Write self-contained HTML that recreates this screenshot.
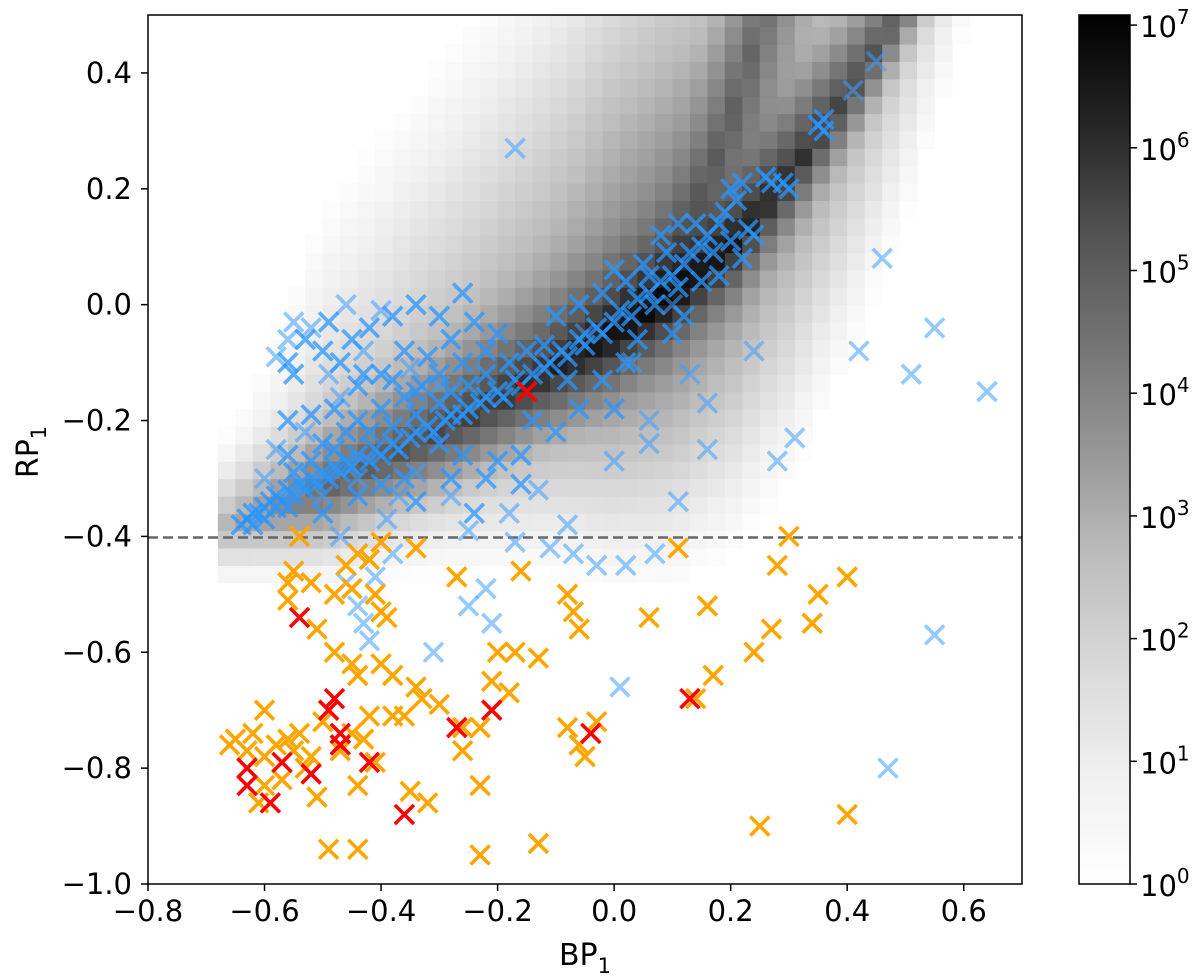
<!DOCTYPE html>
<html><head><meta charset="utf-8"><style>
body{margin:0;background:#fff}
svg{display:block;font-family:"DejaVu Sans","Liberation Sans",sans-serif}
</style></head><body>
<svg id="chart" width="1200" height="979" viewBox="0 0 1200 979">
<defs>
<linearGradient id="cbg" x1="0" y1="1" x2="0" y2="0">
<stop offset="0" stop-color="#ffffff"/><stop offset="0.125" stop-color="#f0f0f0"/><stop offset="0.25" stop-color="#d9d9d9"/><stop offset="0.375" stop-color="#bdbdbd"/><stop offset="0.5" stop-color="#969696"/><stop offset="0.625" stop-color="#737373"/><stop offset="0.75" stop-color="#525252"/><stop offset="0.875" stop-color="#252525"/><stop offset="1" stop-color="#000000"/>
</linearGradient>
<clipPath id="pc"><rect x="148" y="15" width="874" height="869"/></clipPath>
</defs>
<g id="heat" clip-path="url(#pc)"></g>
<line x1="148" y1="537.5" x2="1022" y2="537.5" stroke="#666" stroke-width="2.5" stroke-dasharray="10,5"/>
<g id="marks" clip-path="url(#pc)"></g>
<rect x="148" y="15" width="874" height="869" fill="none" stroke="#000" stroke-width="1.5"/>
<g id="axes" font-size="29" fill="#000"></g>
<text x="585" y="965" font-size="30" text-anchor="middle">BP<tspan font-size="21" dy="8">1</tspan></text>
<text transform="translate(38,452) rotate(-90)" font-size="30" text-anchor="middle">RP<tspan font-size="21" dy="8">1</tspan></text>
<rect x="1079" y="15" width="51" height="869" fill="url(#cbg)" stroke="#000" stroke-width="1.5"/>
<g id="cbaxis" font-size="29"></g>
</svg>
<script>
const NS="http://www.w3.org/2000/svg";
// ---- data ----
const xTicks=[-0.8,-0.6,-0.4,-0.2,0.0,0.2,0.4,0.6];
const yTicks=[-1.0,-0.8,-0.6,-0.4,-0.2,0.0,0.2,0.4];
const cbTicks=[0,1,2,3,4,5,6,7];
// heatmap ridges (log10 count peak along ridge)
const ridgeX=[-0.68,-0.5,-0.3,-0.1,0.0,0.1,0.2,0.3,0.4,0.5,0.6];
const ridgeY=[-0.39,-0.32,-0.22,-0.11,-0.05,0.02,0.1,0.22,0.36,0.52,0.7];
const ridgeP=[2.8,4.8,5.6,6.3,6.8,7.0,6.6,6.1,5.6,5.0,4.0];
const branchX=[0.05,0.12,0.2,0.27];
const branchY=[0.0,0.12,0.32,0.55];
const branchP=[5.5,5.3,5.0,4.6];
const blueDense=[[-0.64,-0.38],[-0.63,-0.37],[-0.62,-0.36],[-0.62,-0.38],[-0.61,-0.36],[-0.60,-0.35],[-0.60,-0.37],[-0.59,-0.34],[-0.58,-0.35],[-0.58,-0.33],[-0.57,-0.34],[-0.56,-0.32],[-0.56,-0.35],[-0.55,-0.33],[-0.54,-0.31],[-0.53,-0.32],[-0.52,-0.30],[-0.51,-0.31],[-0.50,-0.29],[-0.49,-0.30],[-0.48,-0.28],[-0.47,-0.29],[-0.46,-0.27],[-0.45,-0.28],[-0.44,-0.26],[-0.42,-0.27],[-0.41,-0.25],[-0.40,-0.26],[-0.38,-0.24],[-0.37,-0.25],[-0.35,-0.23],[-0.34,-0.22],[-0.32,-0.21],[-0.31,-0.22],[-0.29,-0.20],[-0.28,-0.19],[-0.26,-0.19],[-0.25,-0.18],[-0.23,-0.17],[-0.22,-0.16],[-0.20,-0.15],[-0.19,-0.16],[-0.17,-0.13],[-0.16,-0.14],[-0.14,-0.12],[-0.12,-0.11],[-0.11,-0.10],[-0.09,-0.08],[-0.08,-0.09],[-0.06,-0.06],[-0.05,-0.07],[-0.03,-0.04],[-0.02,-0.05],[0.0,-0.03],[0.01,-0.01],[0.03,-0.02],[0.04,0.01],[0.06,0.02],[0.07,0.0],[0.08,0.04],[0.10,0.05],[0.11,0.03],[0.12,0.07],[0.13,0.09],[0.15,0.10],[0.16,0.12],[0.17,0.09],[0.18,0.14],[0.19,0.16],[0.20,0.20],[0.21,0.18],[0.22,0.21],[0.23,0.13],[0.26,0.22],[0.27,0.21],[0.29,0.21],[0.30,0.20],[0.35,0.31],[0.36,0.30],[0.36,0.32],[0.0,0.06],[-0.02,0.02],[0.05,0.07],[0.09,0.09],[0.02,0.04],[-0.06,0.0],[-0.1,-0.02],[0.14,0.14],[0.11,0.14],[0.08,0.12],[0.06,0.05],[0.15,0.04],[0.18,0.05],[0.20,0.11],[0.22,0.08],[0.24,0.12],[0.04,-0.06],[0.1,-0.05],[0.12,-0.02],[-0.08,-0.13],[-0.12,-0.07],[-0.15,-0.08],[-0.18,-0.1],[-0.22,-0.12],[-0.25,-0.14],[-0.28,-0.15],[-0.30,-0.17],[-0.34,-0.19],[-0.38,-0.21],[-0.42,-0.22],[-0.48,-0.25],[-0.52,-0.27],[-0.55,-0.29],[-0.56,-0.26],[-0.50,-0.24],[-0.46,-0.22],[-0.44,-0.2],[-0.40,-0.18],[-0.36,-0.16],[-0.33,-0.14],[-0.30,-0.12],[-0.26,-0.10],[-0.22,-0.08],[-0.20,-0.05],[-0.24,-0.03],[-0.28,-0.06],[-0.32,-0.09],[-0.36,-0.08],[-0.40,-0.12],[-0.44,-0.14],[-0.48,-0.18],[-0.52,-0.19],[-0.56,-0.20],[-0.55,-0.12],[-0.50,-0.08],[-0.45,-0.06],[-0.42,-0.04],[-0.38,-0.02],[-0.34,0.0],[-0.30,-0.02],[-0.26,0.02],[-0.56,-0.1],[-0.53,-0.06],[-0.49,-0.03],[-0.47,-0.10],[-0.43,-0.12],[-0.38,-0.13],[-0.34,-0.15],[-0.30,-0.24],[-0.26,-0.26],[-0.22,-0.3],[-0.2,-0.27],[-0.16,-0.26],[-0.14,-0.20],[-0.1,-0.22],[-0.06,-0.18],[-0.02,-0.13],[0.0,-0.18],[0.02,-0.10],[-0.36,-0.30],[-0.40,-0.31],[-0.44,-0.33],[-0.50,-0.36],[-0.34,-0.34],[-0.28,-0.30],[-0.24,-0.36],[-0.16,-0.31]];
const blueSparse=[[-0.17,0.27],[0.45,0.42],[0.41,0.37],[0.46,0.08],[0.42,-0.08],[0.55,-0.04],[0.64,-0.15],[0.51,-0.12],[0.55,-0.57],[0.47,-0.80],[0.31,-0.23],[0.28,-0.27],[0.24,-0.08],[0.16,-0.25],[0.11,-0.34],[0.16,-0.17],[0.13,-0.12],[0.06,-0.20],[0.02,-0.45],[0.07,-0.43],[0.01,-0.66],[-0.07,-0.43],[-0.03,-0.45],[-0.11,-0.42],[-0.17,-0.41],[-0.22,-0.49],[-0.21,-0.55],[-0.25,-0.52],[-0.31,-0.60],[-0.25,-0.39],[-0.28,-0.33],[-0.34,-0.29],[-0.13,-0.32],[-0.18,-0.36],[-0.08,-0.38],[-0.43,-0.55],[-0.42,-0.58],[-0.44,-0.52],[-0.41,-0.47],[-0.39,-0.37],[-0.37,-0.33],[-0.45,-0.28],[-0.47,-0.16],[-0.46,0.0],[-0.40,-0.01],[-0.58,-0.09],[-0.56,-0.06],[-0.55,-0.03],[-0.52,-0.04],[-0.49,-0.12],[-0.43,-0.08],[-0.35,-0.11],[-0.30,-0.14],[-0.53,-0.22],[-0.58,-0.25],[-0.60,-0.30],[-0.50,-0.33],[-0.44,-0.30],[-0.38,-0.43],[-0.47,-0.40],[-0.46,-0.48],[0.0,-0.27],[0.03,-0.10],[-0.05,-0.05],[0.10,0.0],[0.06,-0.24]];
const orangePts=[[-0.54,-0.40],[-0.40,-0.41],[-0.34,-0.42],[-0.42,-0.44],[-0.44,-0.43],[-0.46,-0.45],[-0.55,-0.46],[-0.56,-0.48],[-0.52,-0.48],[-0.56,-0.51],[-0.48,-0.50],[-0.45,-0.49],[-0.41,-0.50],[-0.40,-0.53],[-0.39,-0.54],[-0.27,-0.47],[-0.16,-0.46],[-0.08,-0.50],[-0.07,-0.53],[-0.06,-0.56],[0.06,-0.54],[0.11,-0.42],[0.16,-0.52],[0.24,-0.60],[0.27,-0.56],[0.28,-0.45],[0.30,-0.40],[0.34,-0.55],[0.35,-0.50],[0.40,-0.47],[0.17,-0.64],[0.14,-0.68],[-0.51,-0.56],[-0.48,-0.60],[-0.45,-0.62],[-0.44,-0.64],[-0.38,-0.64],[-0.34,-0.66],[-0.33,-0.68],[-0.38,-0.71],[-0.30,-0.69],[-0.20,-0.60],[-0.17,-0.60],[-0.13,-0.61],[-0.21,-0.65],[-0.18,-0.67],[-0.60,-0.70],[-0.66,-0.76],[-0.65,-0.75],[-0.63,-0.77],[-0.62,-0.74],[-0.60,-0.78],[-0.58,-0.76],[-0.56,-0.75],[-0.54,-0.74],[-0.55,-0.77],[-0.53,-0.80],[-0.52,-0.78],[-0.47,-0.77],[-0.45,-0.74],[-0.42,-0.71],[-0.36,-0.71],[-0.43,-0.75],[-0.41,-0.79],[-0.50,-0.72],[-0.51,-0.85],[-0.60,-0.83],[-0.61,-0.86],[-0.44,-0.83],[-0.35,-0.84],[-0.32,-0.86],[-0.26,-0.73],[-0.23,-0.73],[-0.26,-0.77],[-0.23,-0.83],[-0.08,-0.73],[-0.06,-0.76],[-0.03,-0.72],[-0.05,-0.78],[-0.49,-0.94],[-0.44,-0.94],[-0.23,-0.95],[-0.13,-0.93],[0.25,-0.90],[0.40,-0.88],[-0.57,-0.82],[-0.40,-0.62]];
const redPts=[[-0.15,-0.15],[-0.54,-0.54],[-0.49,-0.70],[-0.48,-0.68],[-0.47,-0.74],[-0.47,-0.76],[-0.42,-0.79],[-0.63,-0.80],[-0.63,-0.83],[-0.59,-0.86],[-0.57,-0.79],[-0.52,-0.81],[-0.36,-0.88],[-0.27,-0.73],[-0.21,-0.70],[-0.04,-0.74],[0.13,-0.68]];
// ---- scales ----
const X0=148,X1=1022,Y0=884,Y1=15;
const sx=x=>X0+(x+0.8)/1.5*(X1-X0);
const sy=y=>Y0-(y+1)/1.5*(Y0-Y1);
const cbY=v=>884-v*122.7;
const greys=[[255,255,255],[240,240,240],[217,217,217],[189,189,189],[150,150,150],[115,115,115],[82,82,82],[37,37,37],[0,0,0]];
function grey(t){t=Math.max(0,Math.min(1,t));const f=t*8,i=Math.min(7,Math.floor(f)),r=f-i;const a=greys[i],b=greys[i+1];return 'rgb('+a.map((v,k)=>Math.round(v+(b[k]-v)*r)).join(',')+')';}
function interp(xs,ys,x){if(x<=xs[0])return ys[0]+(x-xs[0])*(ys[1]-ys[0])/(xs[1]-xs[0]);for(let i=1;i<xs.length;i++){if(x<=xs[i]){const r=(x-xs[i-1])/(xs[i]-xs[i-1]);return ys[i-1]+r*(ys[i]-ys[i-1]);}}const n=xs.length;return ys[n-1]+(x-xs[n-1])*(ys[n-1]-ys[n-2])/(xs[n-1]-xs[n-2]);}
function level(x,y){
  let s=0;
  const d=y-interp(ridgeX,ridgeY,x);const p=interp(ridgeX,ridgeP,Math.min(0.6,Math.max(-0.68,x)));
  s+=Math.pow(10,p-(d>0?20:30)*Math.abs(d));
  const kb=Math.max(7,Math.min(15,10-10*x));
  s+=Math.pow(10,p-2.3-(d>0?5*d:kb*(-d)));
  if(x>0.0&&x<0.4&&y>-0.05){const bx=interp(branchY,branchX,y);const dx=Math.abs(x-bx);const bp=interp(branchY,branchP,y);s+=Math.pow(10,bp-25*dx);}
  return Math.log10(s);
}
// ---- heatmap ----
const heat=document.getElementById('heat');
const bw=0.03,bh=0.03;
for(let x=-0.68;x<0.7;x+=bw){for(let y=-0.66;y<0.5;y+=bh){
  const L=level(x+bw/2,y+bh/2);if(L<0.1)continue;
  const r=document.createElementNS(NS,'rect');
  r.setAttribute('x',sx(x).toFixed(1));r.setAttribute('y',sy(y+bh).toFixed(1));
  r.setAttribute('width',(sx(x+bw)-sx(x)+0.6).toFixed(1));r.setAttribute('height',(sy(y)-sy(y+bh)+0.6).toFixed(1));
  r.setAttribute('fill',grey(L/7.08));
  
  
  heat.appendChild(r);
}}
// ---- markers ----
const marks=document.getElementById('marks');
function cross(p,color,op,name){
  const g=document.createElementNS(NS,'path');const cx=sx(p[0]),cy=sy(p[1]),h=9.5;
  g.setAttribute('d',`M${cx-h},${cy-h}L${cx+h},${cy+h}M${cx-h},${cy+h}L${cx+h},${cy-h}`);
  g.setAttribute('stroke',color);g.setAttribute('stroke-width','3.6');g.setAttribute('stroke-opacity',op);g.setAttribute('fill','none');
  
  
  marks.appendChild(g);
}
blueSparse.forEach(p=>cross(p,'#3d9fff',0.55,'blue-marker'));
blueDense.forEach(p=>cross(p,'#2a95ff',0.75,'blue-marker'));
orangePts.forEach(p=>cross(p,'#ffa500',1,'orange-marker'));
redPts.forEach(p=>cross(p,'#ff0000',1,'red-marker'));
// ---- axes ----
const axes=document.getElementById('axes');
const fmt=v=>(v<0?'\u2212':'')+Math.abs(v).toFixed(1);
xTicks.forEach(v=>{
  const l=document.createElementNS(NS,'line');l.setAttribute('x1',sx(v));l.setAttribute('x2',sx(v));l.setAttribute('y1',884);l.setAttribute('y2',891);l.setAttribute('stroke','#000');l.setAttribute('stroke-width','1.5');
  
  
  axes.appendChild(l);
  const t=document.createElementNS(NS,'text');t.setAttribute('x',sx(v));t.setAttribute('y',921);t.setAttribute('text-anchor','middle');t.textContent=fmt(v);
  
  
  axes.appendChild(t);
});
yTicks.forEach(v=>{
  const l=document.createElementNS(NS,'line');l.setAttribute('x1',141);l.setAttribute('x2',148);l.setAttribute('y1',sy(v));l.setAttribute('y2',sy(v));l.setAttribute('stroke','#000');l.setAttribute('stroke-width','1.5');
  
  
  axes.appendChild(l);
  const t=document.createElementNS(NS,'text');t.setAttribute('x',132);t.setAttribute('y',sy(v)+10);t.setAttribute('text-anchor','end');t.textContent=fmt(v);
  
  
  axes.appendChild(t);
});
const cba=document.getElementById('cbaxis');
cbTicks.forEach(v=>{
  const l=document.createElementNS(NS,'line');l.setAttribute('x1',1130);l.setAttribute('x2',1137);l.setAttribute('y1',cbY(v));l.setAttribute('y2',cbY(v));l.setAttribute('stroke','#000');l.setAttribute('stroke-width','1.5');
  
  
  cba.appendChild(l);
  const t=document.createElementNS(NS,'text');t.setAttribute('x',1140);t.setAttribute('y',cbY(v)+12);
  t.innerHTML='10<tspan font-size="20" dy="-13">'+v+'</tspan>';
  
  
  cba.appendChild(t);
});
</script>
</body></html>
